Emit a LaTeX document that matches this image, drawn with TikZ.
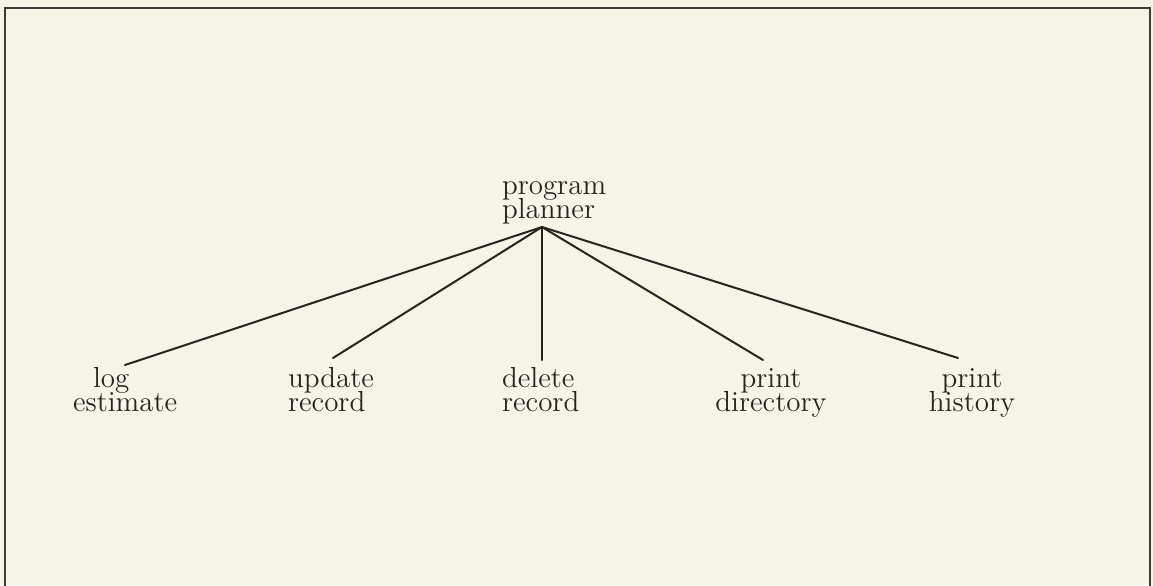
\documentclass[tikz,border=0pt]{standalone}
\definecolor{paper}{RGB}{245,244,229}
\definecolor{ink}{RGB}{40,36,32}
\definecolor{frame}{RGB}{60,60,56}
\newcommand\tline[1]{\strut\smash{#1}}
\tikzset{
  lbl/.style={inner sep=0pt, outer sep=0pt, text=ink,
    font=\fontsize{14.5}{12}\selectfont},
  conn/.style={draw=ink, line width=1pt, line cap=round},
}
\begin{document}
\begin{tikzpicture}[x=0.5pt,y=-0.5pt]
\useasboundingbox (0,0) rectangle (1153,585);
\fill[paper] (0,0) rectangle (1153,585);
\draw[frame, line width=1.1pt] (5,590) -- (5,8) -- (1150,8) -- (1150,590);
% nodes
\node[lbl, anchor=west, align=left] (pp) at (502,202) {\tline{program}\\\tline{planner}};
\node[lbl, anchor=west, align=left] (le) at (73,395) {\tline{\hspace*{10pt}log}\\\tline{estimate}};
\node[lbl, anchor=west, align=left] (ur) at (288,395) {\tline{update}\\\tline{record}};
\node[lbl, anchor=west, align=left] (dr) at (502,395) {\tline{delete}\\\tline{record}};
\node[lbl, align=center] (pd) at (771,395) {\tline{print}\\\tline{directory}};
\node[lbl, align=center] (ph) at (972,395) {\tline{print}\\\tline{history}};
% connector ends
\coordinate (apex) at (542,227);
\coordinate (cle) at (125,365);
\coordinate (cur) at (333,358);
\coordinate (cdr) at (542,360);
\coordinate (cpd) at (763,360);
\coordinate (cph) at (958,358);
\draw[conn] (apex) -- (cle);
\draw[conn] (apex) -- (cur);
\draw[conn] (apex) -- (cdr);
\draw[conn] (apex) -- (cpd);
\draw[conn] (apex) -- (cph);
\end{tikzpicture}
\end{document}
